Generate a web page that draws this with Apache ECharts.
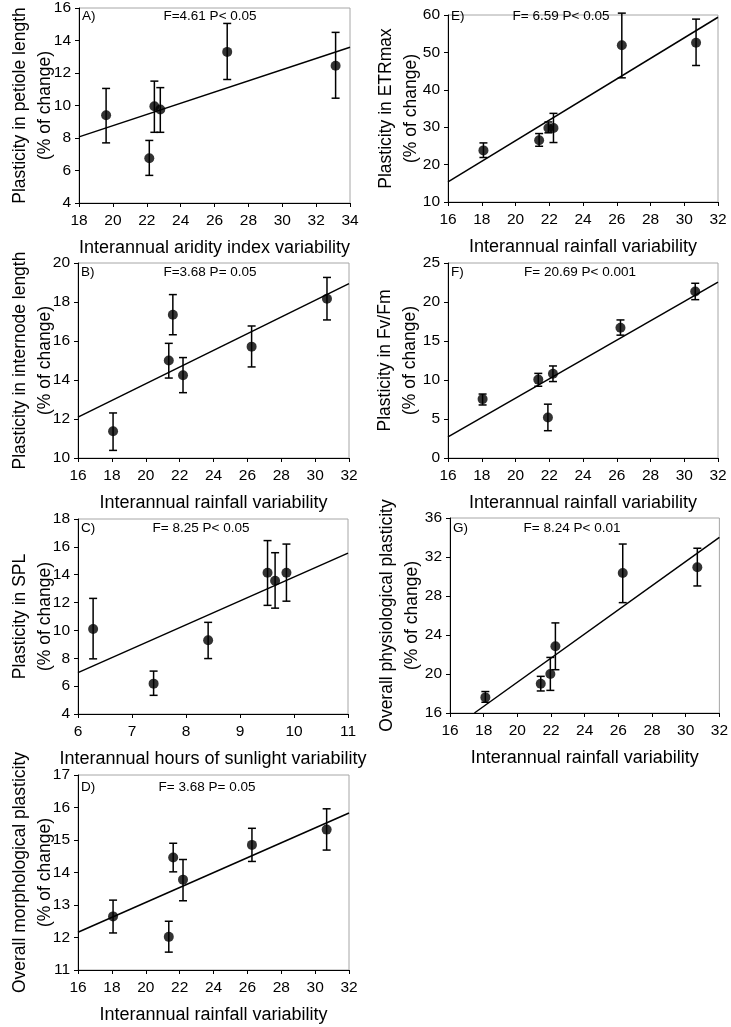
<!DOCTYPE html>
<html>
<head>
<meta charset="utf-8">
<script src="https://cdn.jsdelivr.net/npm/echarts@6/dist/echarts.min.js"></script>
<style>
    html, body { margin: 0; padding: 0; background: #fff; }
    #main { width: 731px; height: 1027px; }
</style>
</head>
<body>
<div id="main"></div>
<script>
    // A) petiole length vs aridity index
    var xA = [19.6, 22.15, 22.45, 22.8, 26.75, 33.15];
    var yA = [9.4, 6.75, 9.95, 9.75, 13.3, 12.45];
    var loA = [7.7, 5.7, 8.35, 8.35, 11.6, 10.45];
    var hiA = [11.05, 7.85, 11.5, 11.1, 15.05, 14.5];
    var fitA = [[18, 8.07], [34, 13.58]];

    // E) ETRmax vs rainfall
    var xE = [18.1, 21.4, 21.95, 22.25, 26.3, 30.7];
    var yE = [23.8, 26.5, 29.8, 29.8, 51.9, 52.6];
    var loE = [21.9, 24.9, 28.5, 25.9, 43.2, 46.5];
    var hiE = [25.8, 28.3, 31.4, 33.7, 60.5, 58.9];
    var fitE = [[16, 15.4], [32, 59.4]];

    // B) internode length vs rainfall
    var xB = [18.07, 21.36, 21.6, 22.2, 26.25, 30.7];
    var yB = [11.37, 15.0, 17.35, 14.24, 15.71, 18.17];
    var loB = [10.39, 14.1, 16.32, 13.35, 14.67, 17.08];
    var hiB = [12.31, 15.88, 18.38, 15.15, 16.77, 19.26];
    var fitB = [[16, 12.1], [32, 18.94]];

    // F) Fv/Fm vs rainfall
    var xF = [18.05, 21.35, 21.92, 22.22, 26.22, 30.65];
    var yF = [7.55, 10.05, 5.2, 10.8, 16.7, 21.35];
    var loF = [6.8, 9.2, 3.5, 9.8, 15.75, 20.3];
    var hiF = [8.2, 10.85, 6.9, 11.8, 17.7, 22.4];
    var fitF = [[16, 2.7], [32, 22.55]];

    // C) SPL vs hours of sunlight
    var xC = [6.28, 7.4, 8.41, 9.51, 9.65, 9.86];
    var yC = [10.1, 6.18, 9.3, 14.14, 13.57, 14.14];
    var loC = [7.96, 5.34, 7.98, 11.8, 11.6, 12.1];
    var hiC = [12.3, 7.08, 10.58, 16.45, 15.58, 16.2];
    var fitC = [[6, 6.97], [11, 15.55]];

    // G) overall physiological plasticity vs rainfall
    var xG = [18.1, 21.39, 21.96, 22.26, 26.26, 30.69];
    var yG = [17.6, 19.0, 20.0, 22.85, 30.35, 30.95];
    var loG = [17.1, 18.26, 18.32, 20.44, 27.32, 29.03];
    var hiG = [18.2, 19.76, 21.7, 25.24, 33.33, 32.9];
    var fitG = [[17.45, 16], [32, 34.02]];

    // D) overall morphological plasticity vs rainfall
    var xD = [18.07, 21.36, 21.62, 22.2, 26.27, 30.68];
    var yD = [12.65, 12.02, 14.46, 13.78, 14.85, 15.32];
    var loD = [12.14, 11.55, 14.02, 13.13, 14.34, 14.69];
    var hiD = [13.15, 12.5, 14.9, 14.4, 15.36, 15.96];
    var fitD = [[16, 12.16], [32, 15.83]];

    var panels = [
        { tag: 'A)', stat: 'F=4.61 P< 0.05', x: xA, y: yA, lo: loA, hi: hiA, fit: fitA,
          xName: 'Interannual aridity index variability', yName: 'Plasticity in petiole length',
          xMin: 18, xMax: 34, xStep: 2, yMin: 4, yMax: 16, yStep: 2,
          box: [79, 8, 271, 195], nameGap: 21, statX: 210, tagY: 16 },
        { tag: 'E)', stat: 'F= 6.59 P< 0.05', x: xE, y: yE, lo: loE, hi: hiE, fit: fitE,
          xName: 'Interannual rainfall variability', yName: 'Plasticity in ETRmax',
          xMin: 16, xMax: 32, xStep: 2, yMin: 10, yMax: 60, yStep: 10,
          box: [448, 15, 270, 187], nameGap: 24, statX: 561, tagY: 16 },
        { tag: 'B)', stat: 'F=3.68 P= 0.05', x: xB, y: yB, lo: loB, hi: hiB, fit: fitB,
          xName: 'Interannual rainfall variability', yName: 'Plasticity in internode length',
          xMin: 16, xMax: 32, xStep: 2, yMin: 10, yMax: 20, yStep: 2,
          box: [78, 263, 271, 195], nameGap: 20, statX: 210, tagY: 272 },
        { tag: 'F)', stat: 'F= 20.69 P< 0.001', x: xF, y: yF, lo: loF, hi: hiF, fit: fitF,
          xName: 'Interannual rainfall variability', yName: 'Plasticity in Fv/Fm',
          xMin: 16, xMax: 32, xStep: 2, yMin: 0, yMax: 25, yStep: 5,
          box: [448, 263, 270, 195], nameGap: 25, statX: 580, tagY: 272 },
        { tag: 'C)', stat: 'F= 8.25 P< 0.05', x: xC, y: yC, lo: loC, hi: hiC, fit: fitC,
          xName: 'Interannual hours of sunlight variability', yName: 'Plasticity in SPL',
          xMin: 6, xMax: 11, xStep: 1, yMin: 4, yMax: 18, yStep: 2,
          box: [78, 519, 270, 195], nameGap: 20, statX: 201, tagY: 528 },
        { tag: 'G)', stat: 'F= 8.24 P< 0.01', x: xG, y: yG, lo: loG, hi: hiG, fit: fitG,
          xName: 'Interannual rainfall variability', yName: 'Overall physiological plasticity',
          xMin: 16, xMax: 32, xStep: 2, yMin: 16, yMax: 36, yStep: 4,
          box: [450, 518, 271, 195], nameGap: 25, statX: 572, tagY: 528 },
        { tag: 'D)', stat: 'F= 3.68 P= 0.05', x: xD, y: yD, lo: loD, hi: hiD, fit: fitD,
          xName: 'Interannual rainfall variability', yName: 'Overall morphological plasticity',
          xMin: 16, xMax: 32, xStep: 2, yMin: 11, yMax: 17, yStep: 1,
          box: [78, 775, 271, 195], nameGap: 20, statX: 207, tagY: 787 }
    ];

    var FONT = 'Liberation Sans, Arial, sans-serif';

    // vertical error bar with caps
    var errorBar = function(params, api){
        var xv = api.value(0);
        var top = api.coord([xv, api.value(2)]);
        var bot = api.coord([xv, api.value(1)]);
        var w = 4;
        var st = { stroke: '#000', lineWidth: 1.5 };
        return {
            type: 'group',
            children: [
                { type: 'line', shape: { x1: top[0], y1: top[1], x2: bot[0], y2: bot[1] }, style: st },
                { type: 'line', shape: { x1: top[0] - w, y1: top[1], x2: top[0] + w, y2: top[1] }, style: st },
                { type: 'line', shape: { x1: bot[0] - w, y1: bot[1], x2: bot[0] + w, y2: bot[1] }, style: st }
            ]
        };
    };

    var grid = [], xAxis = [], yAxis = [], series = [], graphic = [];

    panels.forEach(function(p, i){
        grid.push({
            left: p.box[0], top: p.box[1], width: p.box[2], height: p.box[3],
            show: true, borderColor: '#a6a6a6', borderWidth: 1, backgroundColor: 'transparent'
        });
        xAxis.push({
            gridIndex: i, type: 'value', min: p.xMin, max: p.xMax, interval: p.xStep,
            name: p.xName, nameLocation: 'middle', nameGap: 36, nameMoveOverlap: false,
            nameTextStyle: { fontFamily: FONT, fontSize: 18, color: '#000' },
            axisLine: { show: true, onZero: false, lineStyle: { color: '#000', width: 1 } },
            axisTick: { show: true, inside: false, length: 4, lineStyle: { color: '#000' } },
            axisLabel: { fontFamily: FONT, fontSize: 15.5, color: '#000', margin: 10 },
            splitLine: { show: false }
        });
        yAxis.push({
            gridIndex: i, type: 'value', min: p.yMin, max: p.yMax, interval: p.yStep,
            name: p.yName + '\n(% of change)', nameLocation: 'middle', nameGap: p.nameGap,
            nameMoveOverlap: false,
            nameTextStyle: { fontFamily: FONT, fontSize: 17.5, color: '#000', lineHeight: 25 },
            axisLine: { show: true, onZero: false, lineStyle: { color: '#000', width: 1 } },
            axisTick: { show: true, inside: false, length: 4, lineStyle: { color: '#000' } },
            axisLabel: { fontFamily: FONT, fontSize: 15.5, color: '#000', margin: 8 },
            splitLine: { show: false }
        });

        var bars = [], pts = [];
        for (var k = 0; k < p.x.length; k++) {
            bars.push([p.x[k], p.lo[k], p.hi[k]]);
            pts.push([p.x[k], p.y[k]]);
        }
        series.push({
            type: 'line', xAxisIndex: i, yAxisIndex: i, data: p.fit,
            showSymbol: false, symbol: 'none', lineStyle: { color: '#000', width: 1.5 },
            silent: true, z: 2
        });
        series.push({
            type: 'custom', xAxisIndex: i, yAxisIndex: i, data: bars,
            renderItem: errorBar, silent: true, z: 3
        });
        series.push({
            type: 'scatter', xAxisIndex: i, yAxisIndex: i, data: pts,
            symbol: 'circle', symbolSize: 10, itemStyle: { color: '#000' },
            silent: true, z: 4
        });

        graphic.push({
            type: 'text', left: p.box[0] + 3, top: p.tagY - 7,
            style: { text: p.tag, font: '13.5px ' + FONT, fill: '#000' }
        });
        graphic.push({
            type: 'text', x: p.statX, y: p.tagY,
            style: { text: p.stat, font: '13.5px ' + FONT, fill: '#000', align: 'center', verticalAlign: 'middle' }
        });
    });

    var myChart = echarts.init(document.getElementById('main'), null, { renderer: 'canvas' });
    myChart.setOption({
        animation: false,
        backgroundColor: '#fff',
        grid: grid,
        xAxis: xAxis,
        yAxis: yAxis,
        series: series,
        graphic: graphic
    });
</script>
</body>
</html>
